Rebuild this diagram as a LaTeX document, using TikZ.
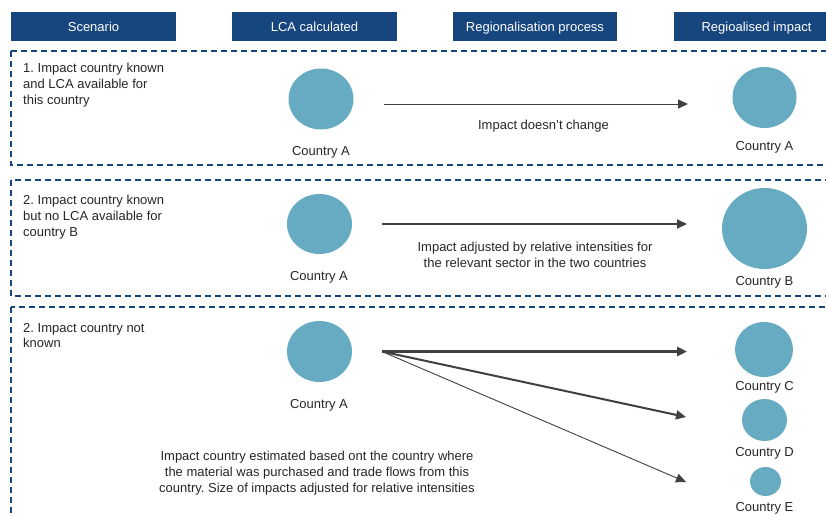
\documentclass[tikz,border=0pt]{standalone}
\usepackage{fontspec}
\setmainfont{Liberation Sans}
\usetikzlibrary{arrows.meta,shapes.geometric}
\definecolor{hdrblue}{RGB}{23,70,127}
\definecolor{blobblue}{RGB}{102,171,193}
\definecolor{ink}{RGB}{38,38,38}
\definecolor{arrowgrey}{RGB}{64,64,64}

\begin{document}
\begin{tikzpicture}[x=1pt,y=-1pt,
	every node/.style={font=\fontsize{13}{15.7}\selectfont\frenchspacing, text=ink, inner sep=0pt},
	hdr/.style={fill=hdrblue, text=white, minimum width=165pt, minimum height=29pt, text height=9.3pt, text depth=0pt},
	band/.style={draw=hdrblue, line width=1.3pt, dash pattern=on 6pt off 4pt},
	country/.style 2 args={ellipse, fill=blobblue, minimum width=#1pt, minimum height=#2pt},
	flow/.style={color=arrowgrey, -{Triangle[length=10pt,width=9pt]}}
]
\useasboundingbox (0,0) rectangle (826,515);
\clip (0,0) rectangle (826,515);

\node[hdr] (hScen) at (93.5,26.5) {Scenario};
\node[hdr] (hLca) at (314.5,26.5) {LCA calculated};
\node[hdr, minimum width=164pt] (hProc) at (535,26.5) {Regionalisation process};
\node[hdr] (hImp) at (756.5,26.5) {Regioalised impact};

\draw[band] (11,51) rectangle (850,165);
\draw[band] (11,180) rectangle (850,296);
\draw[band] (11,307) rectangle (850,540);

\node[anchor=north west, align=left] (scen1) at (23,63) {1. Impact country known\\and LCA available for\\this country};
\node[anchor=north west, align=left] (scen2) at (23,195) {2. Impact country known\\but no LCA available for\\country B};
\node[anchor=north west, align=left] (scen3) at (23,323) {2. Impact country not\\known};

\node[country={65}{61}] (lcaA1) at (321,99) {};
\node[country={64}{61}] (regA1) at (764.5,97.5) {};
\node[country={65}{60}] (lcaA2) at (319.5,224) {};
\node[country={85}{81}] (regB2) at (764.5,228.5) {};
\node[country={65}{61}] (lcaA3) at (319.5,351.5) {};
\node[country={58}{55}] (regC3) at (764,349.5) {};
\node[country={45}{42}] (regD3) at (764.5,420) {};
\node[country={31}{29}] (regE3) at (765.5,481.5) {};

\node[anchor=base] (lcaA1l) at (321,155) {Country A};
\node[anchor=base] (regA1l) at (764.5,150.5) {Country A};
\node[anchor=base] (lcaA2l) at (319,280) {Country A};
\node[anchor=base] (regB2l) at (764.5,285.5) {Country B};
\node[anchor=base] (lcaA3l) at (319,408) {Country A};
\node[anchor=base] (regC3l) at (764.5,390.5) {Country C};
\node[anchor=base] (regD3l) at (764.5,456.6) {Country D};
\node[anchor=base] (regE3l) at (764.5,511.5) {Country E};

\coordinate (src1) at (384,104);
\coordinate (dst1) at (688,104);
\coordinate (src2) at (382,224);
\coordinate (dst2) at (687,224);
\coordinate (src3) at (382,351.5);
\coordinate (dstC) at (687,351.5);
\coordinate (dstD) at (686,417);
\coordinate (dstE) at (686,482);

\path[flow]
(src1) edge[line width=1pt] (dst1)
(src2) edge[line width=2pt] (dst2)
(src3) edge[line width=2.5pt] (dstC)
edge[line width=2pt] (dstD)
edge[line width=.9pt] (dstE)
;

\node[anchor=north] (txt1) at (543.5,120) {Impact doesn't change};
\node[anchor=north, align=center] (txt2) at (535,241.7) {Impact adjusted by relative intensities for\\the relevant sector in the two countries};
\node[anchor=north, align=center] (txt3) at (317,451) {Impact country estimated based ont the country where\\the material was purchased and trade flows from this\\country. Size of impacts adjusted for relative intensities};
\end{tikzpicture}
\end{document}
